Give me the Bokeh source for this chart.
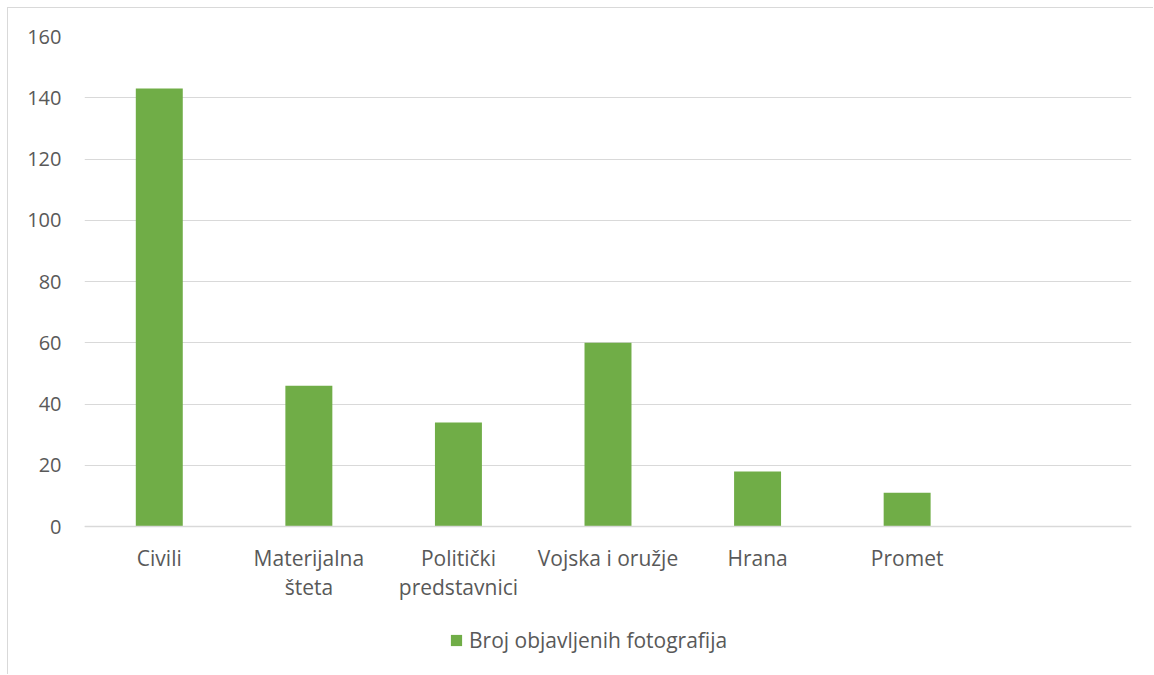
from bokeh.plotting import figure
from bokeh.models import ColumnDataSource, Legend, LegendItem, Range1d, FixedTicker, Span
from bokeh.core.properties import value
from bokeh.embed import file_html
from bokeh.resources import INLINE

categories = ["Civili", "Materijalna šteta", "Politički predstavnici", "Vojska i oružje", "Hrana", "Promet", ""]
label_line1 = ["Civili", "Materijalna", "Politički", "Vojska i oružje", "Hrana", "Promet", ""]
label_line2 = ["", "šteta", "predstavnici", "", "", "", ""]
values = [143, 46, 34, 60, 18, 11, 0]
series_name = "Broj objavljenih fotografija"
y_ticks = [0, 20, 40, 60, 80, 100, 120, 140, 160]

FONT = "Open Sans"
TXT = "#595959"
GRID = "#d9d9d9"
GREEN = "#70AD47"

xpos = list(range(len(categories)))
src = ColumnDataSource(dict(x=xpos, val=values, l1=label_line1, l2=label_line2, zero=[0] * len(xpos)))

# frame: top at 28px, 0 at 490px below top, frame height 639px -> y range below 0 holds the labels/legend
px_per_unit = 490 / 160
y_bottom = -(639 - 490) / px_per_unit

p = figure(x_range=Range1d(-0.5, len(categories) - 0.5), y_range=Range1d(y_bottom, 160),
           width=1146, height=667, output_backend="svg", toolbar_location=None,
           x_axis_location=None,
           min_border_left=76, min_border_right=23, min_border_top=28, min_border_bottom=0)
p.margin = (7, 0, 0, 7)
p.styles = {"border-left": "1px solid #d9d9d9", "border-top": "1px solid #d9d9d9"}
p.outline_line_color = None
p.background_fill_color = "white"
p.border_fill_color = "white"

r = p.vbar(x="x", top="val", width=0.314, source=src, fill_color=GREEN, line_color=None)

p.xgrid.grid_line_color = None
p.ygrid.grid_line_color = GRID
p.ygrid.grid_line_width = 1
p.ygrid.ticker = FixedTicker(ticks=y_ticks)
p.yaxis.ticker = FixedTicker(ticks=y_ticks)
p.yaxis.axis_line_color = None
p.yaxis.major_tick_line_color = None
p.yaxis.major_tick_out = 0
p.yaxis.major_tick_in = 0
p.yaxis.minor_tick_line_color = None
p.yaxis.major_label_standoff = 23
p.yaxis.major_label_text_font = FONT
p.yaxis.major_label_text_font_size = "20px"
p.yaxis.major_label_text_color = TXT

p.add_layout(Span(location=0, dimension="width", line_color=GRID, line_width=1.5))

for col, off in (("l1", 31), ("l2", 60)):
    p.text(x="x", y="zero", text=col, source=src, y_offset=off,
           text_align="center", text_baseline="alphabetic",
           text_font=value(FONT), text_font_size="21px", text_color=TXT)

legend = Legend(items=[LegendItem(label=series_name, renderers=[r])],
                location=(365, 21), orientation="horizontal",
                glyph_width=14, glyph_height=14, label_standoff=6,
                label_text_font=FONT, label_text_font_size="21px", label_text_color=TXT,
                border_line_color=None, background_fill_alpha=0, padding=0, margin=0,
                label_height=20)
p.add_layout(legend, "center")

open("out.html", "w").write(file_html(p, INLINE))
